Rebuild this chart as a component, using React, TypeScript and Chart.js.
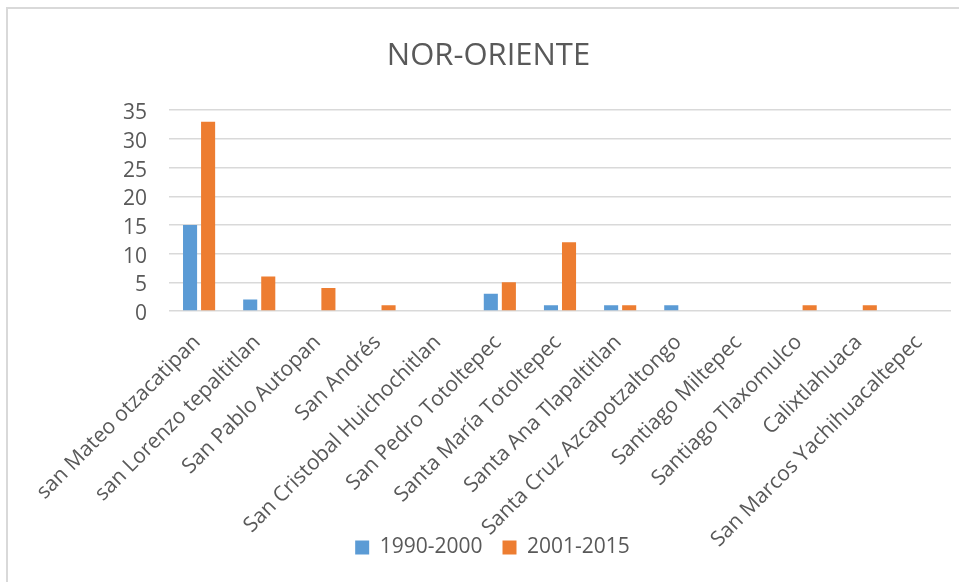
import React, { useEffect, useRef } from "react";
import { Chart, registerables } from "chart.js";

Chart.register(...registerables);

const categories = [
  "san Mateo otzacatipan",
  "san Lorenzo tepaltitlan",
  "San Pablo Autopan",
  "San Andrés",
  "San Cristobal Huichochitlan",
  "San Pedro Totoltepec",
  "Santa María Totoltepec",
  "Santa Ana Tlapaltitlan",
  "Santa Cruz Azcapotzaltongo",
  "Santiago Miltepec",
  "Santiago Tlaxomulco",
  "Calixtlahuaca",
  "San Marcos Yachihuacaltepec",
];

const series1990 = [15, 2, 0, 0, 0, 3, 1, 1, 1, 0, 0, 0, 0];
const series2001 = [33, 6, 4, 1, 0, 5, 12, 1, 0, 0, 1, 1, 0];

const seriesNames = ["1990-2000", "2001-2015"];
const chartTitle = "NOR-ORIENTE";

const TEXT = "#595959";
const FONT = "'Open Sans', sans-serif";

// let the rotated category labels run down into the legend band (no clipping),
// and nudge the legend slightly to the right
const layoutTweaks = {
  id: "layoutTweaks",
  afterLayout(chart: any) {
    const x = chart.scales.x;
    if (x) x.bottom = chart.height;
    const lg = chart.legend;
    if (lg) {
      lg.left += 4;
      lg.right += 4;
    }
  },
};

export default function App() {
  const ref = useRef<HTMLCanvasElement | null>(null);

  useEffect(() => {
    if (!ref.current) return;
    const chart = new Chart(ref.current, {
      type: "bar",
      data: {
        labels: categories,
        datasets: [
          {
            label: seriesNames[0],
            data: series1990,
            backgroundColor: "#5B9BD5",
            categoryPercentage: 0.6,
            barPercentage: 0.78,
          },
          {
            label: seriesNames[1],
            data: series2001,
            backgroundColor: "#ED7D31",
            categoryPercentage: 0.6,
            barPercentage: 0.78,
          },
        ],
      },
      plugins: [layoutTweaks],
      options: {
        responsive: false,
        animation: false,
        devicePixelRatio: 1,
        layout: { padding: { left: 26, right: 8, top: 0, bottom: 14 } },
        plugins: {
          title: {
            display: true,
            text: chartTitle,
            color: TEXT,
            font: { family: FONT, size: 31, weight: "normal" },
            padding: { top: 38, bottom: 35 },
          },
          legend: {
            display: true,
            position: "bottom",
            labels: {
              color: TEXT,
              font: { family: FONT, size: 21 },
              boxWidth: 14,
              boxHeight: 14,
              padding: 20,
            },
          },
          tooltip: { enabled: false },
        },
        scales: {
          x: {
            grid: { display: false },
            border: { display: false },
            ticks: {
              color: TEXT,
              font: { family: FONT, size: 21 },
              minRotation: 45,
              maxRotation: 45,
              autoSkip: false,
              padding: 11,
              labelOffset: -2,
            },
            afterFit: (s: any) => {
              s.height = 206;
            },
          },
          y: {
            min: 0,
            max: 35,
            ticks: {
              stepSize: 5,
              color: TEXT,
              font: { family: FONT, size: 21 },
              padding: 22,
              labelOffset: 3,
            },
            grid: { color: "#d9d9d9", lineWidth: 1.5, drawTicks: false },
            border: { display: false },
            afterFit: (s: any) => {
              s.width = 143;
            },
          },
        },
      },
    });
    return () => chart.destroy();
  }, []);

  return (
    <div
      style={{
        position: "absolute",
        left: 0,
        top: 0,
        width: 959,
        height: 582,
        background: "#fff",
        overflow: "hidden",
      }}
    >
      <div
        style={{
          position: "absolute",
          left: 6,
          top: 7,
          width: 1000,
          height: 1000,
          borderLeft: "2px solid #d9d9d9",
          borderTop: "2px solid #d9d9d9",
        }}
      />
      <canvas
        ref={ref}
        width={959}
        height={582}
        style={{ position: "absolute", left: 0, top: 0, width: 959, height: 582 }}
      />
    </div>
  );
}
